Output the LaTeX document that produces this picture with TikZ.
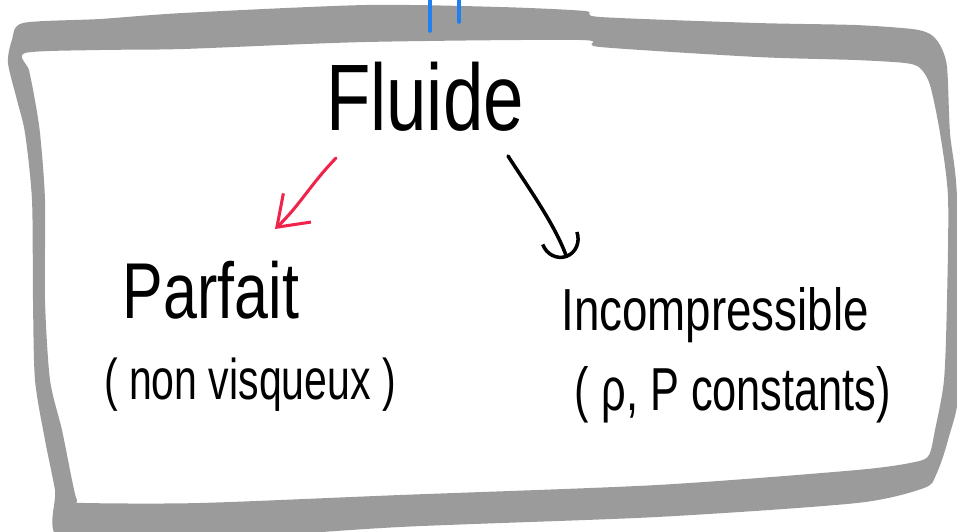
\documentclass[tikz,border=0pt]{standalone}
\usepackage{fontspec}
\setmainfont{Liberation Sans}
\usetikzlibrary{arrows.meta}
\definecolor{framegray}{RGB}{155,155,155}
\definecolor{inkred}{RGB}{240,36,74}
\definecolor{inkblue}{RGB}{32,128,240}
\begin{document}
\begin{tikzpicture}[x=0.03cm,y=-0.03cm,
  hand/.style={inner sep=0pt, text=black},
  redarrow/.style={draw=inkred, line width=2.6pt, line cap=round, line join=round,
    -{Straight Barb[length=24pt,width=34pt,line width=2.6pt]}},
  blackarrow/.style={draw=black, line width=3pt, line cap=round, line join=round,
    -{Arc Barb[length=18pt,width=34pt,line width=3pt]}},
  blueline/.style={draw=inkblue, line width=3pt, line cap=round}]
\useasboundingbox (0,0) rectangle (957,531);
\clip (0,0) rectangle (957,531);
% frame
\fill[framegray, even odd rule]
  plot[smooth cycle, tension=0.45] coordinates {(8,63) (12,40) (23,23) (100,19) (183,13) (366,5) (500,7) (585,11) (600,17) (757,23) (855,25) (912,29) (930,34) (940,45) (947,67) (950,133) (957,197) (960,380) (948,440) (936,475) (924,488) (857,503) (657,517) (400,527) (200,540) (62,540) (55,490) (45,440) (35,380) (33,300) (32,200) (25,133) (17,100)}
  plot[smooth cycle, tension=0.45] coordinates {(25,53) (100,50) (183,49) (366,42) (580,40) (600,47) (757,57) (855,60) (905,63) (920,68) (930,85) (940,133) (948,197) (947,300) (944,380) (935,430) (929,455) (915,462) (857,470) (657,485) (400,495) (200,503) (85,503) (77,500) (72,480) (62,430) (50,380) (45,300) (45,200) (40,133) (34,95) (29,70)};
% blue marks
\coordinate (b1) at (430,0); \coordinate (b1e) at (430,31);
\coordinate (b2) at (459,0); \coordinate (b2e) at (459,22);
\draw[blueline] (b1) -- (b1e);
\draw[blueline] (b2) -- (b2e);
% texts
\node[hand] (fluide) at (425,97) {\scalebox{1}[1.3]{\fontsize{62}{62}\selectfont Fluide}};
\node[hand] (parfait) at (211,290) {\scalebox{1}[1.3]{\fontsize{52}{52}\selectfont Parfait}};
\node[hand] (nonvisq) at (250,385) {\scalebox{1}[1.4]{\fontsize{35}{35}\selectfont ( non visqueux )}};
\node[hand] (incomp) at (715,315) {\scalebox{1}[1.3]{\fontsize{39}{39}\selectfont Incompressible}};
\node[hand] (const) at (733,395) {\scalebox{1}[1.4]{\fontsize{37}{37}\selectfont ( ρ, P constants)}};
% arrows
\coordinate (rs) at (336,158); \coordinate (re) at (275,229);
\coordinate (ks) at (508,156); \coordinate (ke) at (567,258);
\draw[redarrow] (rs) .. controls (310,185) and (300,205) .. (re);
\draw[blackarrow] (ks) .. controls (530,190) and (555,225) .. (ke);
\end{tikzpicture}
\end{document}
